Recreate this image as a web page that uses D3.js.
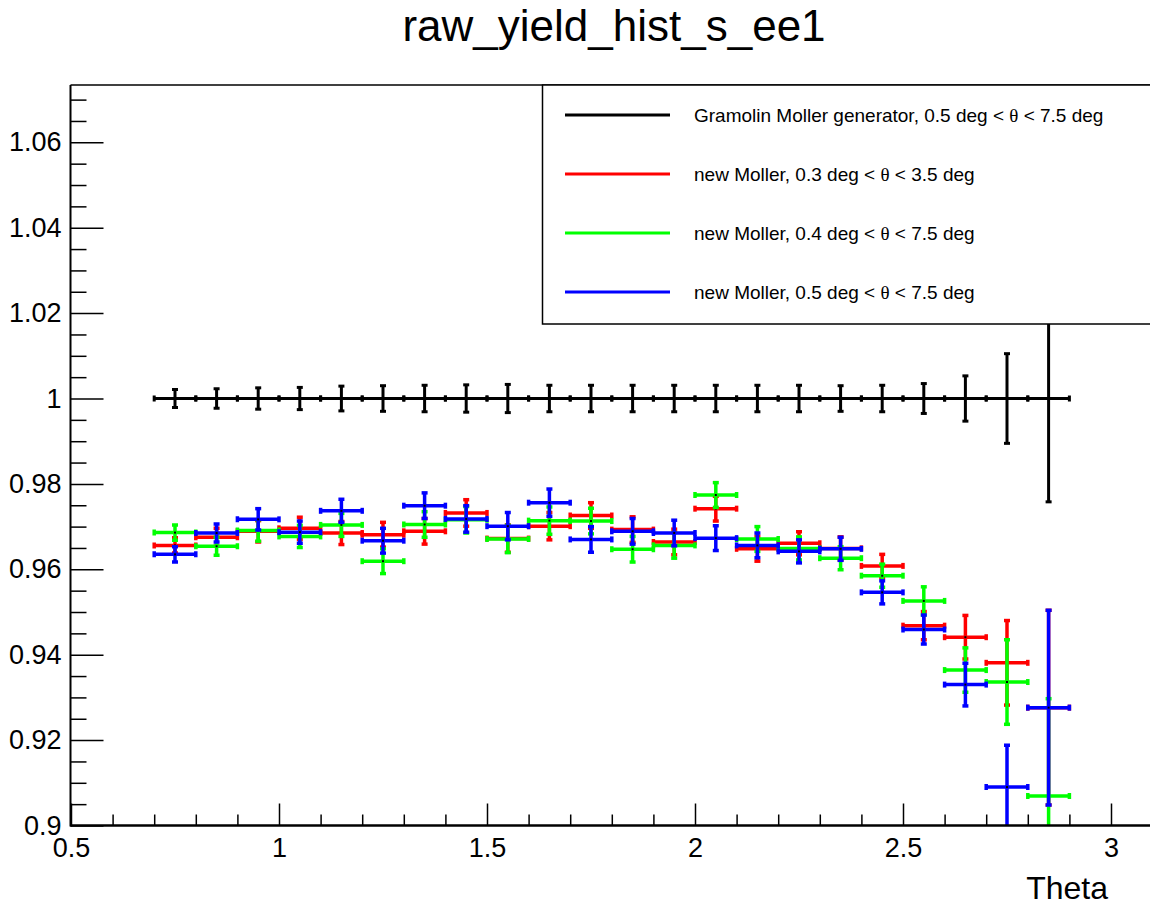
<!DOCTYPE html>
<html>
<head>
<meta charset="utf-8">
<script src="https://cdn.jsdelivr.net/npm/d3@7"></script>
<style>
  html, body { margin: 0; padding: 0; background: #fff; }
  svg { display: block; font-family: "Liberation Sans", Arial, sans-serif; }
</style>
</head>
<body>
<svg id="chart" width="1150" height="908"></svg>
<script>
// Bin centres of the theta histogram (bin width 0.1)
const binCenters = [0.75, 0.85, 0.95, 1.05, 1.15, 1.25, 1.35, 1.45, 1.55, 1.65, 1.75,
                    1.85, 1.95, 2.05, 2.15, 2.25, 2.35, 2.45, 2.55, 2.65, 2.75, 2.85];
const binHalfWidth = 0.05;

// Gramolin Moller generator (reference, normalised to 1)
const gramolinValues = [1, 1, 1, 1, 1, 1, 1, 1, 1, 1, 1,
                        1, 1, 1, 1, 1, 1, 1, 1, 1, 1, 1];
const gramolinErrors = [0.0021, 0.0023, 0.0025, 0.0026, 0.0029, 0.0030, 0.0031, 0.0032, 0.0033, 0.0031, 0.0031,
                        0.0031, 0.0031, 0.0031, 0.0031, 0.0031, 0.0030, 0.0031, 0.0035, 0.0053, 0.0105, 0.0242];

// new Moller, 0.3 deg < theta < 3.5 deg
const red03Values = [0.9656, 0.9675, 0.9689, 0.9696, 0.9685, 0.9681, 0.9689, 0.9732, 0.9672, 0.9701, 0.9726,
                     0.9693, 0.9664, 0.9742, 0.9648, 0.9661, 0.9649, 0.9608, 0.9468, 0.9441, 0.9381, 0.9276];
const red03Errors = [0.0018, 0.0021, 0.0025, 0.0026, 0.0027, 0.0029, 0.0030, 0.0031, 0.0032, 0.0032, 0.0030,
                     0.0030, 0.0030, 0.0029, 0.0029, 0.0027, 0.0027, 0.0027, 0.0033, 0.0051, 0.0099, 0.0228];

// new Moller, 0.4 deg < theta < 7.5 deg
const green04Values = [0.9686, 0.9654, 0.9691, 0.9677, 0.9704, 0.9619, 0.9705, 0.9716, 0.9671, 0.9714, 0.9713,
                       0.9647, 0.9656, 0.9774, 0.9671, 0.9649, 0.9626, 0.9585, 0.9526, 0.9364, 0.9336, 0.9069];
const green04Errors = [0.0018, 0.0021, 0.0025, 0.0026, 0.0027, 0.0029, 0.0030, 0.0031, 0.0032, 0.0032, 0.0030,
                       0.0030, 0.0030, 0.0029, 0.0029, 0.0027, 0.0027, 0.0027, 0.0033, 0.0052, 0.0099, 0.0228];

// new Moller, 0.5 deg < theta < 7.5 deg
const blue05Values = [0.9635, 0.9685, 0.9717, 0.9687, 0.9737, 0.9667, 0.9749, 0.9718, 0.9701, 0.9756, 0.9670,
                      0.9689, 0.9685, 0.9673, 0.9656, 0.9642, 0.9648, 0.9546, 0.9459, 0.9330, 0.9090, 0.9276];
const blue05Errors = [0.0018, 0.0021, 0.0025, 0.0026, 0.0027, 0.0029, 0.0030, 0.0031, 0.0032, 0.0032, 0.0030,
                      0.0030, 0.0030, 0.0029, 0.0029, 0.0027, 0.0027, 0.0027, 0.0034, 0.0050, 0.0098, 0.0228];

// Axis tick labels
const xMajorTicks = [0.5, 1, 1.5, 2, 2.5, 3];
const yMajorTicks = [0.9, 0.92, 0.94, 0.96, 0.98, 1, 1.02, 1.04, 1.06];

const series = [
  { name: "Gramolin Moller generator, 0.5 deg < ", tail: " < 7.5 deg", color: "#000000", width: 3, values: gramolinValues, errors: gramolinErrors },
  { name: "new Moller, 0.3 deg < ", tail: " < 3.5 deg", color: "#ff0000", width: 3.5, values: red03Values, errors: red03Errors },
  { name: "new Moller, 0.4 deg < ", tail: " < 7.5 deg", color: "#00ff00", width: 3.5, values: green04Values, errors: green04Errors },
  { name: "new Moller, 0.5 deg < ", tail: " < 7.5 deg", color: "#0000ff", width: 3.5, values: blue05Values, errors: blue05Errors }
];

const svg = d3.select("#chart");
const frame = { left: 70.5, top: 85, bottom: 825.5 };

const x = d3.scaleLinear().domain([0.5, 3.1]).range([71, 1152.6]);
const y = d3.scaleLinear().domain([0.9, 1.0734]).range([825.5, 85.1]);

// Title
svg.append("text")
  .attr("x", 614).attr("y", 41)
  .attr("text-anchor", "middle")
  .attr("font-size", 44)
  .text("raw_yield_hist_s_ee1");

// Frame top edge
svg.append("line")
  .attr("x1", frame.left).attr("x2", 1160)
  .attr("y1", frame.top).attr("y2", frame.top)
  .attr("stroke", "#000").attr("stroke-width", 1.5);

// Clip region for the data
svg.append("clipPath").attr("id", "plotClip")
  .append("rect")
  .attr("x", frame.left).attr("y", frame.top)
  .attr("width", 1160 - frame.left).attr("height", frame.bottom - frame.top);

const plot = svg.append("g").attr("clip-path", "url(#plotClip)");

const capLen = 6;
series.forEach(s => {
  const g = plot.append("g").attr("stroke", s.color).attr("stroke-width", s.width);
  const pts = binCenters.map((c, i) => ({ c, v: s.values[i], e: s.errors[i] }));
  // horizontal bars (bin width)
  g.selectAll("line.h").data(pts).enter().append("line")
    .attr("x1", d => x(d.c - binHalfWidth)).attr("x2", d => x(d.c + binHalfWidth))
    .attr("y1", d => y(d.v)).attr("y2", d => y(d.v));
  // vertical error bars
  g.selectAll("line.v").data(pts).enter().append("line")
    .attr("x1", d => x(d.c)).attr("x2", d => x(d.c))
    .attr("y1", d => y(d.v - d.e)).attr("y2", d => y(d.v + d.e));
  // end caps on the bars
  ["lo", "hi"].forEach(side => {
    g.selectAll("line.hc" + side).data(pts).enter().append("line")
      .attr("x1", d => x(d.c + (side === "lo" ? -binHalfWidth : binHalfWidth)))
      .attr("x2", d => x(d.c + (side === "lo" ? -binHalfWidth : binHalfWidth)))
      .attr("y1", d => y(d.v) - capLen / 2).attr("y2", d => y(d.v) + capLen / 2);
    g.selectAll("line.vc" + side).data(pts).enter().append("line")
      .attr("x1", d => x(d.c) - capLen / 2).attr("x2", d => x(d.c) + capLen / 2)
      .attr("y1", d => y(d.v + (side === "lo" ? -d.e : d.e)))
      .attr("y2", d => y(d.v + (side === "lo" ? -d.e : d.e)));
  });
  // centre markers
  plot.append("g").selectAll("rect").data(pts).enter().append("rect")
    .attr("x", d => x(d.c) - 1).attr("y", d => y(d.v) - 1)
    .attr("width", 2).attr("height", 2).attr("fill", "#000");
});

// Axes: ticks point into the frame
const yMinor = d3.range(0.9, 1.0734, 0.005).filter(v => !yMajorTicks.some(m => Math.abs(m - v) < 1e-6));
const xMinor = d3.range(0.6, 3.1, 0.1).filter(v => !xMajorTicks.some(m => Math.abs(m - v) < 1e-6));

const yAxisMajor = d3.axisLeft(y).tickValues(yMajorTicks).tickSize(-33).tickPadding(9)
  .tickFormat(d => d3.format("~g")(d)).tickSizeOuter(0);
const yAxisMinor = d3.axisLeft(y).tickValues(yMinor).tickSize(-16).tickFormat("").tickSizeOuter(0);
const xAxisMajor = d3.axisBottom(x).tickValues(xMajorTicks).tickSize(-22).tickPadding(12)
  .tickFormat(d => d3.format("~g")(d)).tickSizeOuter(0);
const xAxisMinor = d3.axisBottom(x).tickValues(xMinor).tickSize(-11).tickFormat("").tickSizeOuter(0);

function styleAxis(sel) {
  sel.selectAll(".domain").remove();
  sel.selectAll(".tick line").attr("stroke", "#000").attr("stroke-width", 1.5);
  sel.selectAll(".tick text").attr("fill", "#000").attr("font-size", 27)
     .attr("font-family", "Liberation Sans, Arial, sans-serif");
}

svg.append("g").attr("transform", `translate(${frame.left},0)`).call(yAxisMinor).call(styleAxis);
svg.append("g").attr("transform", `translate(${frame.left},0)`).call(yAxisMajor).call(styleAxis);
svg.append("g").attr("transform", `translate(0,${frame.bottom})`).call(xAxisMinor).call(styleAxis);
const xg = svg.append("g").attr("transform", `translate(0,${frame.bottom})`).call(xAxisMajor).call(styleAxis);
xg.selectAll(".tick text").attr("dy", "0.71em");

// Axis lines
svg.append("line").attr("x1", frame.left).attr("x2", frame.left)
  .attr("y1", frame.top).attr("y2", frame.bottom + 1)
  .attr("stroke", "#000").attr("stroke-width", 2);
svg.append("line").attr("x1", frame.left).attr("x2", 1160)
  .attr("y1", frame.bottom).attr("y2", frame.bottom)
  .attr("stroke", "#000").attr("stroke-width", 2.5);

// X axis title
svg.append("text")
  .attr("x", 1108).attr("y", 899)
  .attr("text-anchor", "end")
  .attr("font-size", 32)
  .text("Theta");

// Legend
const legend = svg.append("g");
legend.append("rect")
  .attr("x", 542.5).attr("y", 85).attr("width", 640).attr("height", 239)
  .attr("fill", "#fff").attr("stroke", "#000").attr("stroke-width", 1.5);
const legendRows = [115, 174, 233, 292];
series.forEach((s, i) => {
  const ly = legendRows[i];
  legend.append("line")
    .attr("x1", 565).attr("x2", 670).attr("y1", ly).attr("y2", ly)
    .attr("stroke", s.color).attr("stroke-width", 3);
  const t = legend.append("text")
    .attr("x", 694).attr("y", ly).attr("dy", "0.35em")
    .attr("font-size", 19);
  t.append("tspan").text(s.name);
  t.append("tspan").attr("font-family", "Liberation Serif, Times New Roman, serif").text("θ");
  t.append("tspan").text(s.tail);
});
</script>
</body>
</html>
